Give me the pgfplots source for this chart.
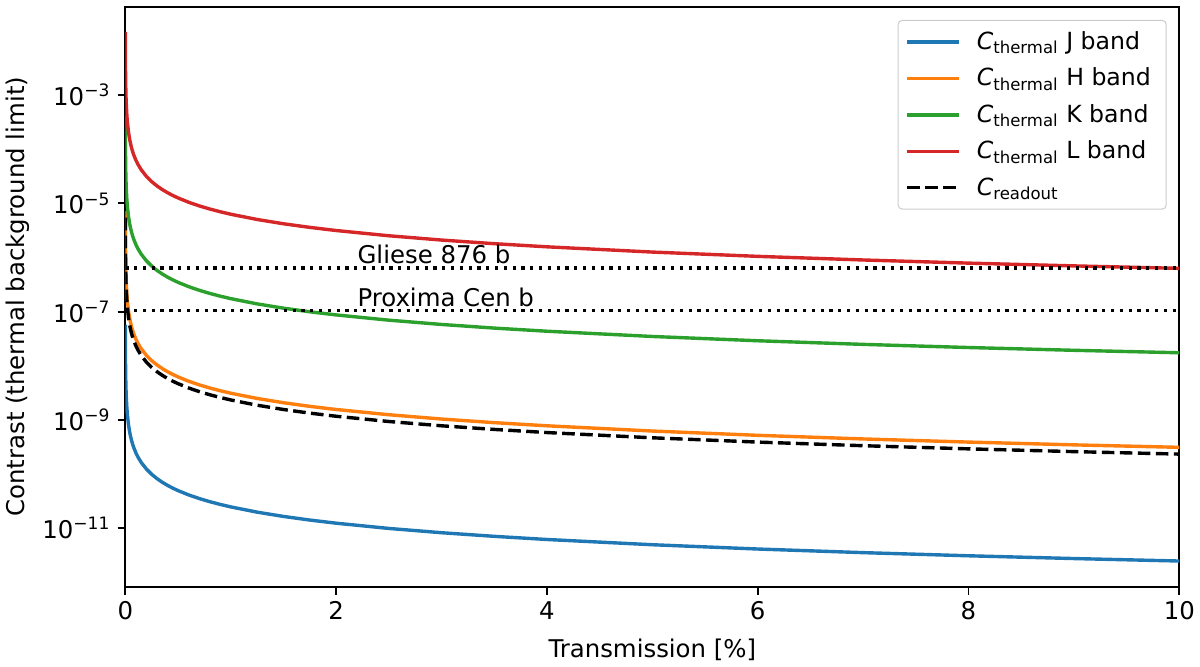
\documentclass[border=0pt]{standalone}
\usepackage{fontspec}
\setmainfont{DejaVu Sans}
\usepackage{pgfplots}
\pgfplotsset{compat=1.18}
\usepackage{pgfplotstable}
\definecolor{tabblue}{HTML}{1F77B4}
\definecolor{taborange}{HTML}{FF7F0E}
\definecolor{tabgreen}{HTML}{2CA02C}
\definecolor{tabred}{HTML}{D62728}
\newcommand\fs{\fontsize{12.2}{14.6}\selectfont}
\newcommand\lfs{\fontsize{11.8}{14.2}\selectfont}
\newcommand\Cth{\textit{C}\textsubscript{thermal}}
\pgfplotsset{mylegimg/.style={legend image code/.code={\draw[#1] (0pt,0pt) -- (26pt,0pt);}}}

\pgfplotstableread{
x        J          H          K          L          R
0.00043  5.767e-8   7.256e-6   4.047e-4   1.465e-2   5.442e-6
0.0006   4.133e-8   5.2e-6     2.9e-4     1.05e-2    3.9e-6
0.0008   3.1e-8     3.9e-6     2.175e-4   7.875e-3   2.925e-6
0.001    2.48e-8    3.12e-6    1.74e-4    6.3e-3     2.34e-6
0.0015   1.653e-8   2.08e-6    1.16e-4    4.2e-3     1.56e-6
0.002    1.24e-8    1.56e-6    8.7e-5     3.15e-3    1.17e-6
0.003    8.267e-9   1.04e-6    5.8e-5     2.1e-3     7.8e-7
0.005    4.96e-9    6.24e-7    3.48e-5    1.26e-3    4.68e-7
0.007    3.543e-9   4.457e-7   2.486e-5   9.0e-4     3.343e-7
0.01     2.48e-9    3.12e-7    1.74e-5    6.3e-4     2.34e-7
0.015    1.653e-9   2.08e-7    1.16e-5    4.2e-4     1.56e-7
0.02     1.24e-9    1.56e-7    8.7e-6     3.15e-4    1.17e-7
0.03     8.267e-10  1.04e-7    5.8e-6     2.1e-4     7.8e-8
0.04     6.2e-10    7.8e-8     4.35e-6    1.575e-4   5.85e-8
0.05     4.96e-10   6.24e-8    3.48e-6    1.26e-4    4.68e-8
0.06     4.133e-10  5.2e-8     2.9e-6     1.05e-4    3.9e-8
0.07     3.543e-10  4.457e-8   2.486e-6   9.0e-5     3.343e-8
0.08     3.1e-10    3.9e-8     2.175e-6   7.875e-5   2.925e-8
0.1      2.48e-10   3.12e-8    1.74e-6    6.3e-5     2.34e-8
0.12     2.067e-10  2.6e-8     1.45e-6    5.25e-5    1.95e-8
0.15     1.653e-10  2.08e-8    1.16e-6    4.2e-5     1.56e-8
0.2      1.24e-10   1.56e-8    8.7e-7     3.15e-5    1.17e-8
0.25     9.92e-11   1.248e-8   6.96e-7    2.52e-5    9.36e-9
0.3      8.267e-11  1.04e-8    5.8e-7     2.1e-5     7.8e-9
0.35     7.086e-11  8.914e-9   4.971e-7   1.8e-5     6.686e-9
0.4      6.2e-11    7.8e-9     4.35e-7    1.575e-5   5.85e-9
0.45     5.511e-11  6.933e-9   3.867e-7   1.4e-5     5.2e-9
0.5      4.96e-11   6.24e-9    3.48e-7    1.26e-5    4.68e-9
0.6      4.133e-11  5.2e-9     2.9e-7     1.05e-5    3.9e-9
0.7      3.543e-11  4.457e-9   2.486e-7   9.0e-6     3.343e-9
0.8      3.1e-11    3.9e-9     2.175e-7   7.875e-6   2.925e-9
0.9      2.756e-11  3.467e-9   1.933e-7   7.0e-6     2.6e-9
1        2.48e-11   3.12e-9    1.74e-7    6.3e-6     2.34e-9
1.25     1.984e-11  2.496e-9   1.392e-7   5.04e-6    1.872e-9
1.5      1.653e-11  2.08e-9    1.16e-7    4.2e-6     1.56e-9
1.75     1.417e-11  1.783e-9   9.943e-8   3.6e-6     1.337e-9
2        1.24e-11   1.56e-9    8.7e-8     3.15e-6    1.17e-9
2.5      9.92e-12   1.248e-9   6.96e-8    2.52e-6    9.36e-10
3        8.267e-12  1.04e-9    5.8e-8     2.1e-6     7.8e-10
3.5      7.086e-12  8.914e-10  4.971e-8   1.8e-6     6.686e-10
4        6.2e-12    7.8e-10    4.35e-8    1.575e-6   5.85e-10
5        4.96e-12   6.24e-10   3.48e-8    1.26e-6    4.68e-10
6        4.133e-12  5.2e-10    2.9e-8     1.05e-6    3.9e-10
7        3.543e-12  4.457e-10  2.486e-8   9.0e-7     3.343e-10
8        3.1e-12    3.9e-10    2.175e-8   7.875e-7   2.925e-10
9        2.756e-12  3.467e-10  1.933e-8   7.0e-7     2.6e-10
10       2.48e-12   3.12e-10   1.74e-8    6.3e-7     2.34e-10
}\data

\begin{document}
\begin{tikzpicture}
\useasboundingbox (-62.65pt,-39.65pt) rectangle (537.35pt,293.35pt);
\begin{axis}[
  at={(0pt,0pt)}, anchor=south west,
  scale only axis, width=527pt, height=290pt,
  xmin=0, xmax=10,
  ymode=log, ymin=8.32e-13, ymax=0.0428,
  xtick={0,2,4,6,8,10},
  ytick={1e-3,1e-5,1e-7,1e-9,1e-11},
  yticklabels={10\textsuperscript{−3},10\textsuperscript{−5},10\textsuperscript{−7},10\textsuperscript{−9},10\textsuperscript{−11}},
  yminorticks=false, xminorticks=false,
  tick pos=left,
  tick align=outside, major tick length=3.9pt,
  every tick/.style={black, line width=0.89pt},
  axis line style={line width=0.89pt},
  tick label style={font=\fs},
  /pgf/number format/assume math mode=true,
  xlabel={Transmission [\%]},
  ylabel={Contrast (thermal background limit)},
  label style={font=\fs},
  xlabel style={at={(axis description cs:0.5,-0.1212)}, anchor=base},
  ylabel style={at={(axis description cs:-0.0952,0.5)}, anchor=base},
  legend style={
    at={(axis description cs:1,1)}, anchor=north east, xshift=-6.3pt, yshift=-6.6pt,
    draw=black!20, line width=0.5pt, rounded corners=2pt,
    fill=white, fill opacity=0.8, text opacity=1,
    font=\lfs, inner xsep=3.65pt, inner ysep=3.5pt, row sep=3.8pt,
    nodes={inner xsep=4pt, inner ysep=2pt},
    /tikz/every odd column/.append style={column sep=4pt},
    cells={anchor=west},
  },
  mylegimg,
]
\addplot[tabblue, line width=1.7pt] table[x=x, y=J] {\data};
\addlegendentry{\Cth{} J band}
\addplot[taborange, line width=1.7pt] table[x=x, y=H] {\data};
\addlegendentry{\Cth{} H band}
\addplot[tabgreen, line width=1.7pt] table[x=x, y=K] {\data};
\addlegendentry{\Cth{} K band}
\addplot[tabred, line width=1.7pt] table[x=x, y=L] {\data};
\addlegendentry{\Cth{} L band}
\addplot[black, line width=1.7pt, dash pattern=on 6.3pt off 2.7pt] table[x=x, y=R] {\data};
\addlegendentry{\textit{C}\textsubscript{readout}}
\addplot[black, line width=1.65pt, dash pattern=on 1.65pt off 2.75pt, forget plot] coordinates {(0,6.4e-7) (10,6.4e-7)};
\addplot[black, line width=1.65pt, dash pattern=on 1.65pt off 2.75pt, forget plot] coordinates {(0,1.04e-7) (10,1.04e-7)};
\node[anchor=base west, inner sep=0pt, font=\fs] at (axis cs:2.2,7.8e-7) {Gliese 876 b};
\node[anchor=base west, inner sep=0pt, font=\fs] at (axis cs:2.2,1.27e-7) {Proxima Cen b};
\end{axis}
\end{tikzpicture}
\end{document}
